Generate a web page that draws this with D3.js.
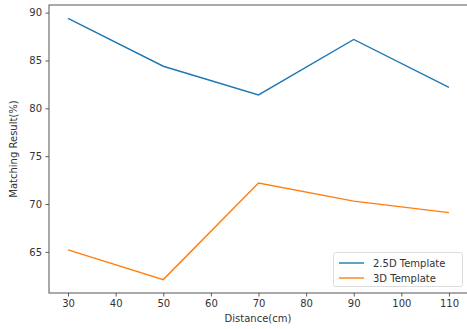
<!DOCTYPE html>
<html>
<head>
<meta charset="utf-8">
<script src="https://cdn.jsdelivr.net/npm/d3@7"></script>
<style>
  body { margin: 0; background: #fff; }
  text { font-family: "DejaVu Sans", sans-serif; fill: #333; }
</style>
</head>
<body>
<div id="chart"></div>
<script>
// data
var distances = [30, 50, 70, 90, 110];
var template25D = [89.4, 84.4, 81.4, 87.2, 82.2];
var template3D = [65.2, 62.1, 72.2, 70.3, 69.1];
var xTicks = [30, 40, 50, 60, 70, 80, 90, 100, 110];
var yTicks = [65, 70, 75, 80, 85, 90];
var seriesNames = ["2.5D Template", "3D Template"];

function init() {
  var width = 467, height = 329;
  var margin = { left: 49, top: 5, right: -1, bottom: 36 };

  var svg = d3.select("#chart")
    .append("svg")
    .attr("width", width)
    .attr("height", height);

  var x = d3.scaleLinear()
    .domain([26, 114])
    .range([margin.left, width - margin.right]);

  var y = d3.scaleLinear()
    .domain([60.7, 90.8])
    .range([height - margin.bottom, margin.top]);

  var color = d3.scaleOrdinal()
    .domain(seriesNames)
    .range(["#1f77b4", "#ff7f0e"]);

  // X axis
  var xAxis = svg.append("g")
    .attr("transform", "translate(0," + (height - margin.bottom) + ")")
    .call(d3.axisBottom(x).tickValues(xTicks).tickSize(3.5).tickPadding(3.5));
  // Y axis
  var yAxis = svg.append("g")
    .attr("transform", "translate(" + margin.left + ",0)")
    .call(d3.axisLeft(y).tickValues(yTicks).tickSize(3.5).tickPadding(3.5));

  [xAxis, yAxis].forEach(function(a) {
    a.select(".domain").remove();
    a.selectAll("line").attr("stroke", "#333").attr("stroke-width", 0.8);
    a.selectAll("text").style("font-size", "10px").style("fill", "#333");
  });

  // frame
  svg.append("rect")
    .attr("x", margin.left)
    .attr("y", margin.top)
    .attr("width", width - margin.right - margin.left)
    .attr("height", height - margin.bottom - margin.top)
    .attr("fill", "none")
    .attr("stroke", "#555")
    .attr("stroke-width", 1);

  var line = d3.line()
    .x(function(d) { return x(d[0]); })
    .y(function(d) { return y(d[1]); });

  var series = [template25D, template3D];
  series.forEach(function(vals, i) {
    svg.append("path")
      .datum(distances.map(function(dd, j) { return [dd, vals[j]]; }))
      .attr("fill", "none")
      .attr("stroke", color(seriesNames[i]))
      .attr("stroke-width", 1.4)
      .attr("d", line);
  });

  // axis labels
  svg.append("text")
    .attr("text-anchor", "middle")
    .attr("x", (margin.left + width) / 2)
    .attr("y", 322)
    .style("font-size", "10px")
    .text("Distance(cm)");

  svg.append("text")
    .attr("text-anchor", "middle")
    .attr("transform", "rotate(-90)")
    .attr("x", -((margin.top + height - margin.bottom) / 2))
    .attr("y", 17)
    .style("font-size", "10px")
    .text("Matching Result(%)");

  // legend
  var lg = svg.append("g");
  lg.append("rect")
    .attr("x", 333.5)
    .attr("y", 252.5)
    .attr("width", 129)
    .attr("height", 34)
    .attr("rx", 2)
    .attr("fill", "#fff")
    .attr("fill-opacity", 0.8)
    .attr("stroke", "#ddd");

  seriesNames.forEach(function(name, i) {
    var yy = 263 + i * 15;
    lg.append("line")
      .attr("x1", 339).attr("x2", 364)
      .attr("y1", yy).attr("y2", yy)
      .attr("stroke", color(name))
      .attr("stroke-width", 1.4);
    lg.append("text")
      .attr("x", 373)
      .attr("y", yy)
      .attr("dy", "0.35em")
      .style("font-size", "10px")
      .text(name);
  });
}
window.onload = init;
</script>
</body>
</html>
